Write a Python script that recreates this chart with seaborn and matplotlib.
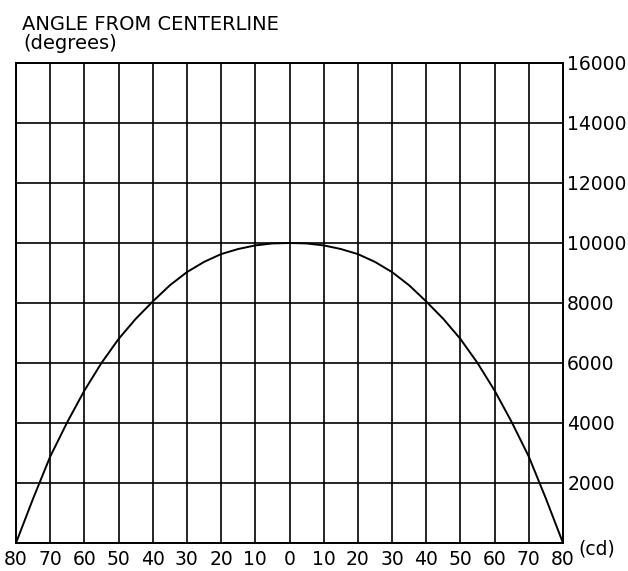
import matplotlib
matplotlib.use("Agg")
import matplotlib.pyplot as plt
import seaborn as sns
import pandas as pd

# Data
angles = [-80, -75, -70, -65, -60, -55, -50, -45, -40, -35, -30, -25, -20, -15, -10, -5,
          0, 5, 10, 15, 20, 25, 30, 35, 40, 45, 50, 55, 60, 65, 70, 75, 80]
intensity = [0, 1480, 2880, 4030, 5080, 6000, 6800, 7470, 8050, 8590, 9030, 9370, 9630, 9800, 9920, 9985,
             10000, 9985, 9920, 9800, 9630, 9370, 9030, 8590, 8050, 7470, 6800, 6000, 5080, 4030, 2880, 1480, 0]
x_ticks = list(range(-80, 81, 10))
x_tick_labels = [str(abs(v)) for v in x_ticks]
y_ticks = list(range(0, 16001, 2000))
y_tick_labels = [""] + [str(v) for v in y_ticks[1:]]

df = pd.DataFrame({"angle": angles, "cd": intensity})

sns.set_style("white")
plt.rcParams["font.family"] = ["DejaVu Sans"]
plt.rcParams["text.color"] = "black"

fig = plt.figure(figsize=(6.28, 5.71), dpi=100)
ax = fig.add_axes([16 / 628, 28 / 571, 547 / 628, 480 / 571])

sns.lineplot(data=df, x="angle", y="cd", ax=ax, color="black", linewidth=1.4)

ax.set_xlim(-80, 80)
ax.set_ylim(0, 16000)
ax.set_xticks(x_ticks)
ax.set_xticklabels(x_tick_labels)
ax.set_yticks(y_ticks)
ax.set_yticklabels(y_tick_labels)
ax.yaxis.tick_right()
ax.tick_params(axis="both", length=0, labelsize=13.5, colors="black")
ax.tick_params(axis="x", pad=5)
ax.tick_params(axis="y", pad=3)
ax.grid(True, color="black", linewidth=1.2)
ax.set_axisbelow(True)
for s in ax.spines.values():
    s.set_color("black")
    s.set_linewidth(1.4)
ax.set_xlabel("")
ax.set_ylabel("")

ax.annotate("(cd)", xy=(1, 0), xycoords="axes fraction", xytext=(11, -4),
            textcoords="offset points", ha="left", va="center", fontsize=13.5,
            color="black")

fig.text(22 / 628, 1 - 30 / 571, "ANGLE FROM CENTERLINE", fontsize=14,
         ha="left", va="baseline", color="black")
fig.text(23 / 628, 1 - 49 / 571, "(degrees)", fontsize=14, ha="left",
         va="baseline", color="black")

fig.savefig("out.png", dpi=100)
